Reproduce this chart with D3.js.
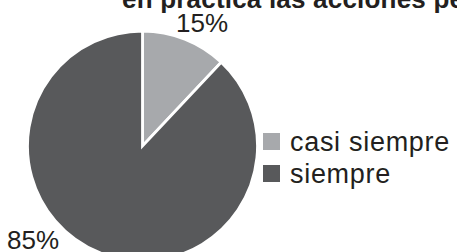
<!DOCTYPE html>
<html>
<head>
<meta charset="utf-8">
<script src="https://cdn.jsdelivr.net/npm/d3@7"></script>
<style>
  body { margin: 0; background: #fff; overflow: hidden; }
  text { font-family: "Liberation Sans", Arial, sans-serif; fill: #231f20; }
</style>
</head>
<body>
<div id="chart"></div>
<script>
// data
const categories = ["casi siempre", "siempre"];
const sliceValues = [12, 88];          // share as drawn
const sliceLabels = ["15%", "85%"];    // printed labels
const colors = ["#a7a9ac", "#58595b"];
const titleText = "en práctica las acciones pe";

const width = 457, height = 252;

const svg = d3.select("#chart").append("svg")
    .attr("width", width)
    .attr("height", height);

// title, cut at top edge
svg.append("text")
    .attr("x", 122)
    .attr("y", 7.5)
    .attr("font-size", 26)
    .attr("font-weight", "bold")
    .attr("letter-spacing", 0.2)
    .text(titleText);

let cx = 142.5, cy = 146, r = 115;

let pie = d3.pie().sort(null).value(d => d);
let arc = d3.arc().innerRadius(0).outerRadius(r);

let g = svg.append("g")
    .attr("transform", "translate(" + cx + "," + cy + ")");

g.selectAll("path")
    .data(pie(sliceValues))
    .enter().append("path")
    .attr("d", arc)
    .attr("fill", (d, i) => colors[i])
    .attr("stroke", "#fff")
    .attr("stroke-width", 2.8)
    .attr("stroke-linejoin", "miter");

// percentage labels
svg.append("text")
    .attr("x", 202)
    .attr("y", 31.5)
    .attr("text-anchor", "middle")
    .attr("font-size", 26)
    .text(sliceLabels[0]);

svg.append("text")
    .attr("x", 7)
    .attr("y", 248.5)
    .attr("font-size", 26)
    .text(sliceLabels[1]);

// legend
let legend = svg.append("g")
    .attr("transform", "translate(263,133)");

let items = legend.selectAll("g")
    .data(categories)
    .enter().append("g")
    .attr("transform", (d, i) => "translate(0," + i * 32 + ")");

items.append("rect")
    .attr("width", 17)
    .attr("height", 17)
    .attr("fill", (d, i) => colors[i]);

items.append("text")
    .attr("x", 27)
    .attr("y", 17.5)
    .attr("font-size", 27)
    .attr("letter-spacing", 0.7)
    .text(d => d);
</script>
</body>
</html>
